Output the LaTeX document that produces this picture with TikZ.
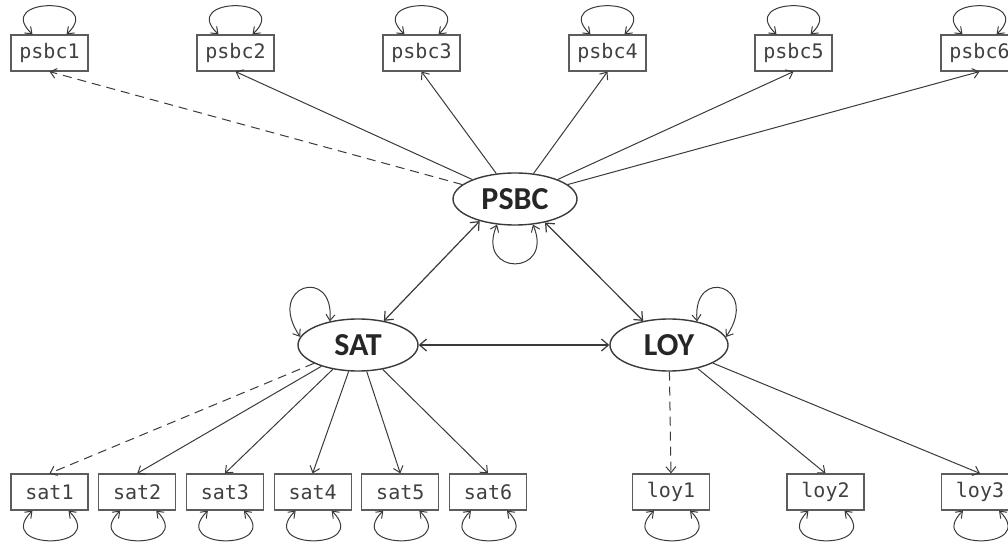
\documentclass[tikz,border=0pt]{standalone}
\usepackage{fontspec}
\setmainfont{Carlito}
\setmonofont{DejaVu Sans Mono}
\usetikzlibrary{shapes,arrows.meta,positioning,calc}
\definecolor{linegray}{HTML}{3A3A3A}
\definecolor{boxgray}{HTML}{5C5C5C}
\definecolor{textgray}{HTML}{404040}

\begin{document}
\begin{tikzpicture}[x=1pt,y=1pt,
  obs/.style={draw=boxgray, line width=1.2pt, minimum width=77pt, minimum height=36pt, inner sep=0pt, text=textgray, font=\ttfamily\fontsize{20}{23}\selectfont},
  lat/.style={ellipse, draw=linegray, line width=1.4pt, minimum height=52pt, inner sep=0pt, text=black!85, font=\fontsize{32}{35}\selectfont\bfseries},
  load/.style={draw=linegray, line width=1pt, -{Straight Barb[length=6pt,width=10pt]}},
  cov/.style={draw=linegray, line width=1.2pt, {Straight Barb[length=7pt,width=12pt]}-{Straight Barb[length=7pt,width=12pt]}},
  var/.style={draw=linegray, line width=1pt, {Straight Barb[length=6pt,width=9pt]}-{Straight Barb[length=6pt,width=9pt]}},
  fixed/.style={dash pattern=on 9pt off 6pt}]
  \useasboundingbox (0,0) rectangle (1008,541);
  % latent factors
  \node[lat, minimum width=124pt] (PSBC) at (515,342) {PSBC};
  \node[lat, minimum width=120pt] (SAT) at (358,196) {SAT};
  \node[lat, minimum width=118pt] (LOY) at (669,196) {LOY};
  % indicators
  \foreach \i/\x in {1/49.5, 2/235.5, 3/421.5, 4/607.5, 5/793.5, 6/979.5}{
    \node[obs] (psbc\i) at (\x,488) {psbc\i};
  }
  \foreach \i/\x in {1/49.5, 2/137.2, 3/224.9, 4/312.6, 5/400.3, 6/488}{
    \node[obs] (sat\i) at (\x,49) {sat\i};
  }
  \foreach \i/\x in {1/671, 2/825.5, 3/980}{
    \node[obs] (loy\i) at (\x,49) {loy\i};
  }
  % loadings
  \draw[load, fixed] (PSBC) -- (psbc1.south);
  \foreach \i in {2,...,6}{
    \draw[load] (PSBC) -- (psbc\i.south);
  }
  \draw[load, fixed] (SAT) -- (sat1.north);
  \foreach \i in {2,...,6}{
    \draw[load] (SAT) -- (sat\i.north);
  }
  \draw[load, fixed] (LOY) -- (loy1.north);
  \foreach \i in {2,3}{
    \draw[load] (LOY) -- (loy\i.north);
  }
  % covariances
  \draw[cov] (PSBC.212) -- (SAT.43);
  \draw[cov] (PSBC.322) -- (LOY.137);
  \draw[cov] (SAT) -- (LOY);
  % variances
  \draw[var] (PSBC.235) .. controls +(-22,-52) and +(22,-52) .. (PSBC.305);
  \draw[var] (SAT.140) .. controls +(5,56) and +(-35,52) .. (SAT.172);
  \draw[var] (LOY.40) .. controls +(-5,56) and +(35,52) .. (LOY.8);
  \foreach \b in {psbc1,psbc2,psbc3,psbc4,psbc5,psbc6}{
    \draw[var] ([xshift=-17pt]\b.north) .. controls +(-40,38) and +(40,38) .. ([xshift=17pt]\b.north);
  }
  \foreach \b in {sat1,sat2,sat3,sat4,sat5,sat6,loy1,loy2,loy3}{
    \draw[var] ([xshift=-17pt]\b.south) .. controls +(-40,-40) and +(40,-40) .. ([xshift=19pt]\b.south);
  }
\end{tikzpicture}
\end{document}
